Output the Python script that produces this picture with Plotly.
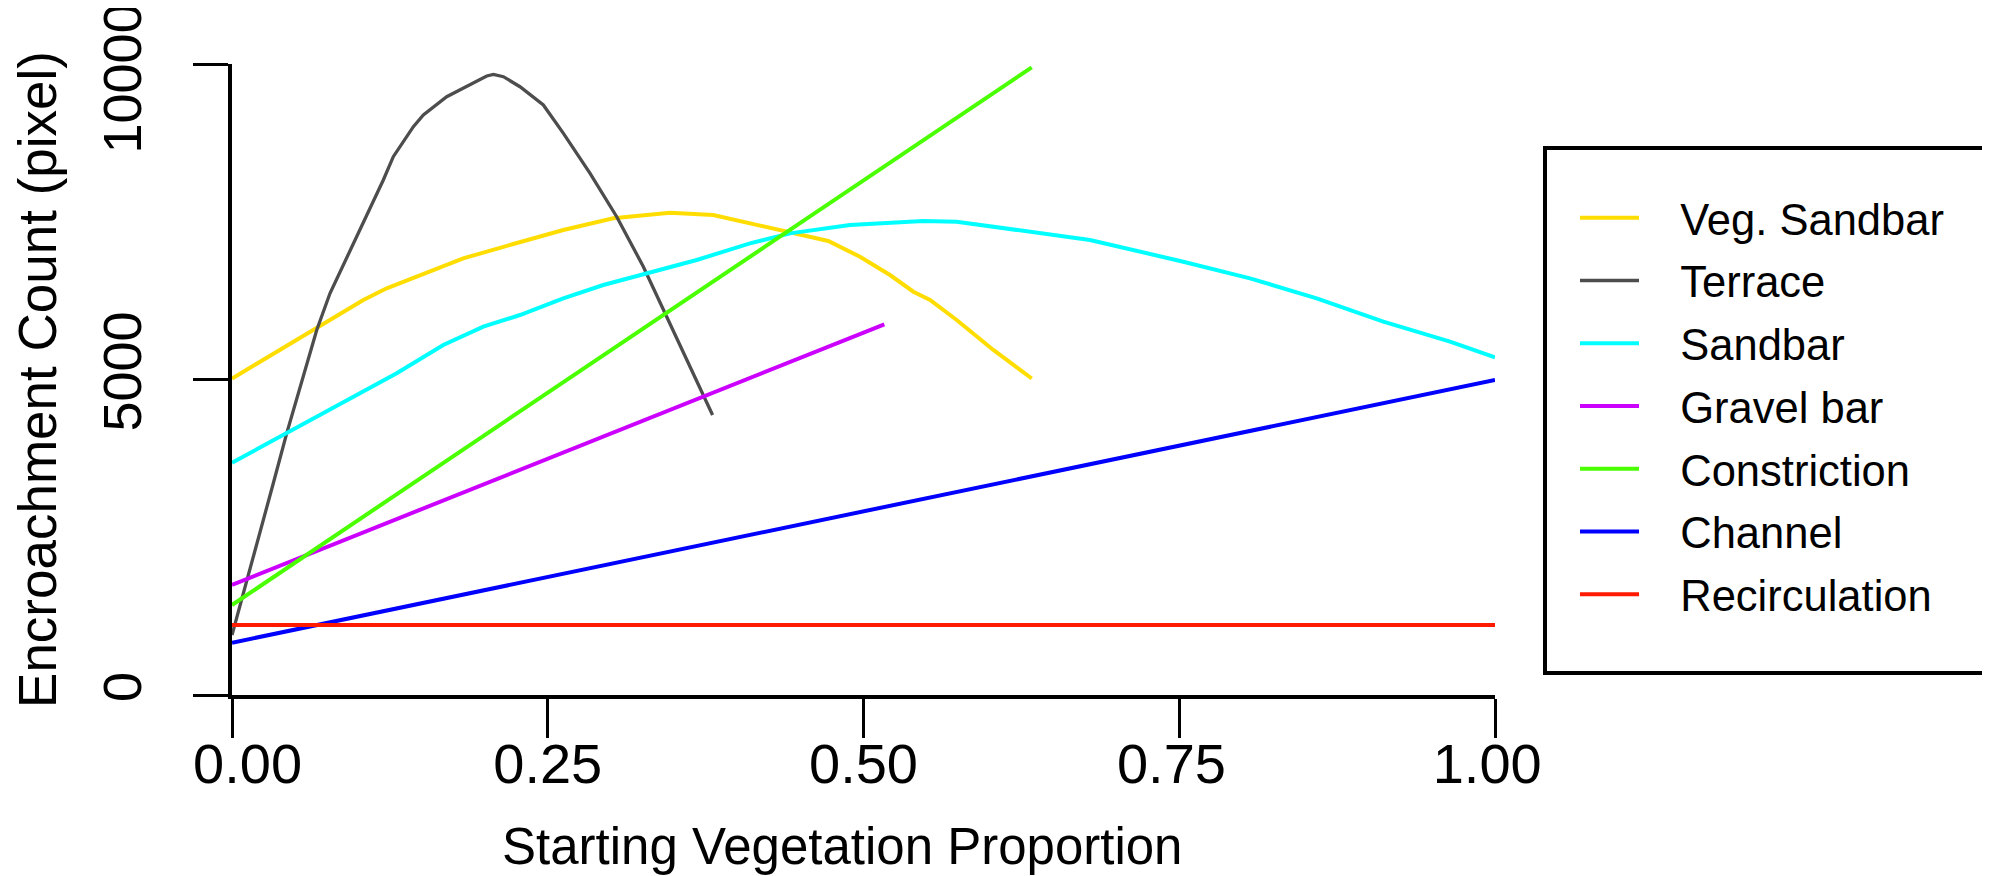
import plotly.graph_objects as go

# ---- data ----
veg_sandbar_x = [0.0, 0.0354, 0.0697, 0.104, 0.1225, 0.1462, 0.1831, 0.2227, 0.2623, 0.3019,
                 0.3468, 0.381, 0.4101, 0.4418, 0.4721, 0.4972, 0.521, 0.5395, 0.5527, 0.5738,
                 0.6028, 0.6332]
veg_sandbar_y = [5016, 5441, 5864, 6260, 6445, 6630, 6920, 7147, 7369, 7554,
                 7643, 7607, 7475, 7343, 7195, 6946, 6656, 6391, 6260, 5943,
                 5468, 5016]

terrace_x = [0.0, 0.0208, 0.0327, 0.0433, 0.0538, 0.0671, 0.0776, 0.0974, 0.1146, 0.1198,
             0.1277, 0.1436, 0.1515, 0.17, 0.2017, 0.207, 0.2149, 0.228, 0.2465, 0.2624,
             0.2835, 0.3046, 0.3257, 0.3468, 0.3679, 0.3805]
terrace_y = [951, 2456, 3355, 4147, 4886, 5784, 6366, 7211, 7951, 8162,
             8531, 9007, 9192, 9482, 9810, 9836, 9799, 9640, 9350, 8901,
             8268, 7580, 6788, 5891, 4992, 4437]

sandbar_x = [0.0, 0.0433, 0.0908, 0.1304, 0.1673, 0.199, 0.228, 0.2623, 0.294, 0.3283,
             0.3679, 0.4101, 0.4418, 0.4893, 0.5474, 0.5738, 0.6344, 0.6793, 0.7532, 0.806,
             0.8588, 0.9116, 0.9644, 1.0]
sandbar_y = [3680, 4147, 4675, 5098, 5547, 5837, 6022, 6287, 6498, 6683,
             6894, 7158, 7316, 7448, 7512, 7501, 7343, 7211, 6867, 6603,
             6287, 5916, 5599, 5352]

gravel_bar_x = [0.0, 0.5165]
gravel_bar_y = [1745, 5875]

constriction_x = [0.0, 0.6332]
constriction_y = [1426, 9947]

channel_x = [0.0, 1.0]
channel_y = [829, 4992]

recirculation_x = [0.0, 1.0]
recirculation_y = [1109, 1109]

series_names = ["Veg. Sandbar", "Terrace", "Sandbar", "Gravel bar",
                "Constriction", "Channel", "Recirculation"]
series_colors = ["#FFDD00", "#4D4D4D", "#00FFFF", "#CC00FF",
                 "#49FF00", "#0000FF", "#FF1A00"]

x_tick_vals = [0, 0.25, 0.5, 0.75, 1.0]
x_tick_text = ["0.00", "0.25", "0.50", "0.75", "1.00"]
y_tick_vals = [0, 5000, 10000]
y_tick_text = ["0", "5000", "10000"]

x_title = "Starting Vegetation Proportion"
y_title = "Encroachment Count (pixel)"

FONT = "Liberation Sans, Arial, sans-serif"
NB = "\u00a0"
ZW = "\u200b"  # zero-width guard so padding spaces are not trimmed

series = [
    (veg_sandbar_x, veg_sandbar_y),
    (terrace_x, terrace_y),
    (sandbar_x, sandbar_y),
    (gravel_bar_x, gravel_bar_y),
    (constriction_x, constriction_y),
    (channel_x, channel_y),
    (recirculation_x, recirculation_y),
]

fig = go.Figure()
for (xs, ys), name, color in zip(series, series_names, series_colors):
    fig.add_trace(go.Scatter(
        x=xs, y=ys, mode="lines", name=ZW + NB * 3 + name, legendgroup=name,
        line=dict(color=color, width=3.3 if name == "Terrace" else 4),
    ))

# the page body has an 8px margin, so the figure starts at (8, 8) on screen
OFF = 8
FW, FH = 1990 - OFF, 876 - OFF
# plot area in figure pixels
PL, PR, PT, PB = 232 - OFF, 1495 - OFF, 64 - OFF, 695 - OFF
PW, PH = PR - PL, PB - PT


def px_x(p):  # screen px -> paper
    return (p - OFF - PL) / PW


def px_y(p):
    return (PB - (p - OFF)) / PH


# small padding so labels sit where the reference draws them
x_tick_labels = [ZW + NB * 2 + x_tick_text[0], x_tick_text[1], x_tick_text[2],
                 x_tick_text[3] + NB + ZW, x_tick_text[4] + NB + ZW]
y_tick_labels = [y_tick_text[0], y_tick_text[1], y_tick_text[2] + NB * 3 + ZW]

fig.update_layout(
    width=FW, height=FH,
    margin=dict(l=PL, r=FW - PR, t=PT, b=FH - PB, autoexpand=False),
    paper_bgcolor="white", plot_bgcolor="white",
    font=dict(family=FONT, color="black"),
    showlegend=True,
    legend=dict(
        x=px_x(1575), y=px_y(183), xanchor="left", yanchor="top",
        bgcolor="rgba(0,0,0,0)", borderwidth=0,
        font=dict(size=43.5, family=FONT, color="black"),
        itemwidth=59, tracegroupgap=3.2,
    ),
    shapes=[dict(
        type="rect", xref="paper", yref="paper",
        x0=px_x(1545), x1=px_x(1987), y0=px_y(673), y1=px_y(148),
        line=dict(color="black", width=4), fillcolor="rgba(0,0,0,0)",
    )],
)

fig.update_xaxes(
    range=[0, 1], showgrid=False, zeroline=False,
    showline=True, linecolor="black", linewidth=3.5,
    ticks="outside", ticklen=39, tickwidth=2.5, tickcolor="black",
    tickvals=x_tick_vals, ticktext=x_tick_labels,
    tickfont=dict(size=56, family=FONT, color="black"),
    ticklabelstandoff=-22,
    title=dict(text=x_title + NB * 3 + ZW, font=dict(size=51, family=FONT, color="black"), standoff=35),
)
fig.update_yaxes(
    range=[0, 10000], showgrid=False, zeroline=False,
    showline=True, linecolor="black", linewidth=3.5,
    ticks="outside", ticklen=35, tickwidth=3, tickcolor="black",
    tickvals=y_tick_vals, ticktext=y_tick_labels, tickangle=-90,
    tickfont=dict(size=54, family=FONT, color="black"),
    ticklabelstandoff=31, ticklabeloverflow="allow",
    title=dict(text=y_title, font=dict(size=53, family=FONT, color="black"), standoff=31),
)

fig.write_html("out.html")
